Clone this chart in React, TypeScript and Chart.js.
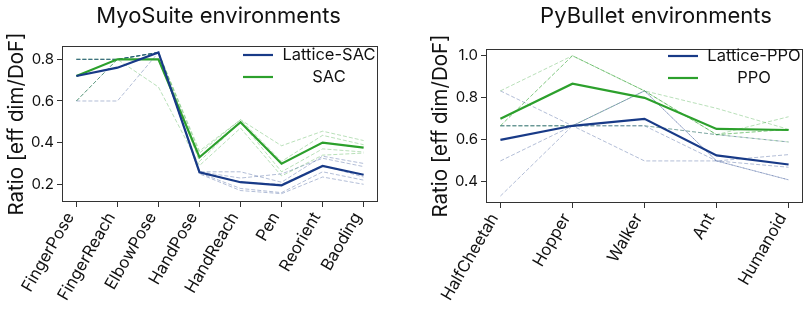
import React, { useEffect, useRef } from 'react';
import { Chart, registerables } from 'chart.js';

Chart.register(...registerables);

// ---------------- DATA ----------------
const myoCategories = ['FingerPose', 'FingerReach', 'ElbowPose', 'HandPose', 'HandReach', 'Pen', 'Reorient', 'Baoding'];
const myoLatticeMean = [0.72, 0.76, 0.833, 0.258, 0.21, 0.195, 0.288, 0.246];
const myoSacMean = [0.72, 0.8, 0.8, 0.33, 0.498, 0.299, 0.4, 0.376];
const myoLatticeSeeds = [
  [0.8, 0.8, 0.833, 0.26, 0.26, 0.21, 0.335, 0.3],
  [0.8, 0.8, 0.833, 0.26, 0.23, 0.25, 0.325, 0.285],
  [0.8, 0.8, 0.833, 0.26, 0.21, 0.2, 0.29, 0.235],
  [0.6, 0.8, 0.833, 0.255, 0.18, 0.16, 0.26, 0.22],
  [0.6, 0.6, 0.833, 0.25, 0.17, 0.155, 0.235, 0.2],
];
const myoSacSeeds = [
  [0.8, 0.8, 0.833, 0.36, 0.51, 0.385, 0.455, 0.41],
  [0.8, 0.8, 0.833, 0.35, 0.51, 0.31, 0.435, 0.39],
  [0.8, 0.8, 0.833, 0.33, 0.5, 0.3, 0.4, 0.375],
  [0.6, 0.8, 0.833, 0.31, 0.5, 0.26, 0.37, 0.355],
  [0.6, 0.8, 0.667, 0.29, 0.47, 0.24, 0.34, 0.35],
];
const myoYTicks = [0.2, 0.4, 0.6, 0.8];

const pyCategories = ['HalfCheetah', 'Hopper', 'Walker', 'Ant', 'Humanoid'];
const pyLatticeMean = [0.6, 0.667, 0.7, 0.526, 0.483];
const pyPpoMean = [0.7, 0.867, 0.8, 0.652, 0.647];
const pyLatticeSeeds = [
  [0.833, 0.667, 0.5, 0.5, 0.53],
  [0.667, 0.667, 0.667, 0.625, 0.59],
  [0.667, 0.667, 0.667, 0.5, 0.47],
  [0.5, 0.667, 0.833, 0.5, 0.41],
  [0.333, 0.667, 0.833, 0.5, 0.41],
];
const pyPpoSeeds = [
  [0.833, 1.0, 0.833, 0.75, 0.65],
  [0.667, 1.0, 0.833, 0.625, 0.71],
  [0.667, 1.0, 0.833, 0.625, 0.65],
  [0.667, 0.667, 0.667, 0.625, 0.65],
  [0.667, 0.667, 0.833, 0.625, 0.59],
];
const pyYTicks = [0.4, 0.6, 0.8, 1.0];

// ---------------- STYLE ----------------
const FONT = 'Inter, "Noto Sans", "DejaVu Sans", sans-serif';
const NAVY = '#183a87';
const GREEN = '#2ca02c';
const NAVY_SEED = 'rgba(24,58,135,0.33)';
const GREEN_SEED = 'rgba(44,160,44,0.33)';
const TEXT = '#111';
const AXIS = '#333';

type Panel = {
  title: string;
  titleDx: number;
  categories: string[];
  mainLabel: string;
  baseLabel: string;
  mainMean: number[];
  baseMean: number[];
  mainSeeds: number[][];
  baseSeeds: number[][];
  yTicks: number[];
  yMin: number;
  yMax: number;
  xMargin: number;
  padding: { left: number; right: number; top: number; bottom: number };
  yAxisWidth: number;
  xAxisHeight: number;
  legendY: number;
  labelOffset: number;
};

const decorPlugin = {
  id: 'panelDecor',
  afterDraw(chart: any, _args: any, opts: any) {
    const { ctx, chartArea: a } = chart;
    ctx.save();
    // frame
    ctx.strokeStyle = AXIS;
    ctx.lineWidth = 1;
    ctx.strokeRect(Math.round(a.left) + 0.5, Math.round(a.top) + 0.5, Math.round(a.right - a.left) - 1, Math.round(a.bottom - a.top) - 1);
    // title
    ctx.fillStyle = TEXT;
    ctx.font = `22px ${FONT}`;
    ctx.textAlign = 'center';
    ctx.textBaseline = 'alphabetic';
    ctx.fillText(opts.title, (a.left + a.right) / 2 + opts.titleDx, 23);
    // y title
    ctx.save();
    ctx.translate(a.left - 39, (a.top + a.bottom) / 2);
    ctx.rotate(-Math.PI / 2);
    ctx.font = `20.5px ${FONT}`;
    ctx.fillText('Ratio [eff dim/DoF]', 0, 0);
    ctx.restore();
    // legend
    const items = [
      { label: opts.mainLabel, color: NAVY },
      { label: opts.baseLabel, color: GREEN },
    ];
    items.forEach((it, i) => {
      const y = opts.legendY + i * 22;
      ctx.strokeStyle = it.color;
      ctx.lineWidth = 2.2;
      ctx.beginPath();
      ctx.moveTo(a.right - 135, y);
      ctx.lineTo(a.right - 105, y);
      ctx.stroke();
      ctx.fillStyle = TEXT;
      ctx.font = `16.5px ${FONT}`;
      ctx.textAlign = 'center';
      ctx.textBaseline = 'middle';
      ctx.fillText(it.label, a.right - 49, y);
    });
    ctx.restore();
  },
};

function buildConfig(p: Panel): any {
  const pts = (arr: number[]) => arr.map((y, i) => ({ x: i, y }));
  const datasets = [
    { data: pts(p.mainMean), borderColor: NAVY, borderWidth: 2.2 },
    { data: pts(p.baseMean), borderColor: GREEN, borderWidth: 2.2 },
    ...p.mainSeeds.map((s) => ({ data: pts(s), borderColor: NAVY_SEED, borderWidth: 1, borderDash: [4, 2] })),
    ...p.baseSeeds.map((s) => ({ data: pts(s), borderColor: GREEN_SEED, borderWidth: 1, borderDash: [4, 2] })),
  ].map((d) => ({ ...d, pointRadius: 0, tension: 0, fill: false }));

  return {
    type: 'line',
    data: { datasets },
    plugins: [decorPlugin],
    options: {
      responsive: false,
      animation: false,
      events: [],
      layout: { padding: p.padding },
      plugins: {
        legend: { display: false },
        tooltip: { enabled: false },
        title: { display: false },
        panelDecor: {
          title: p.title,
          titleDx: p.titleDx,
          mainLabel: p.mainLabel,
          baseLabel: p.baseLabel,
          legendY: p.legendY,
        },
      },
      scales: {
        x: {
          type: 'linear',
          min: -p.xMargin,
          max: p.categories.length - 1 + p.xMargin,
          afterBuildTicks: (s: any) => {
            s.ticks = p.categories.map((_, i) => ({ value: i }));
          },
          afterFit: (s: any) => {
            s.height = p.xAxisHeight;
          },
          ticks: {
            autoSkip: false,
            minRotation: 60,
            maxRotation: 60,
            padding: 2,
            labelOffset: p.labelOffset,
            color: TEXT,
            font: { family: FONT, size: 16.5 },
            callback: (v: any) => p.categories[v] ?? '',
          },
          grid: { drawOnChartArea: false, drawTicks: true, tickLength: 5, color: AXIS },
          border: { display: false },
        },
        y: {
          type: 'linear',
          min: p.yMin,
          max: p.yMax,
          afterBuildTicks: (s: any) => {
            s.ticks = p.yTicks.map((v) => ({ value: v }));
          },
          afterFit: (s: any) => {
            s.width = p.yAxisWidth;
          },
          ticks: {
            padding: 3,
            color: TEXT,
            font: { family: FONT, size: 15 },
            callback: (v: any) => Number(v).toFixed(1),
          },
          grid: { drawOnChartArea: false, drawTicks: true, tickLength: 5, color: AXIS },
          border: { display: false },
        },
      },
    },
  };
}

const myoPanel: Panel = {
  title: 'MyoSuite environments',
  titleDx: -1.5,
  categories: myoCategories,
  mainLabel: 'Lattice-SAC',
  baseLabel: 'SAC',
  mainMean: myoLatticeMean,
  baseMean: myoSacMean,
  mainSeeds: myoLatticeSeeds,
  baseSeeds: myoSacSeeds,
  yTicks: myoYTicks,
  yMin: 0.115,
  yMax: 0.864,
  xMargin: 0.35,
  padding: { left: 0, right: 28, top: 46, bottom: 0 },
  yAxisWidth: 62,
  xAxisHeight: 113,
  legendY: 55,
  labelOffset: -6,
};

const pyPanel: Panel = {
  title: 'PyBullet environments',
  titleDx: 11.5,
  categories: pyCategories,
  mainLabel: 'Lattice-PPO',
  baseLabel: 'PPO',
  mainMean: pyLatticeMean,
  baseMean: pyPpoMean,
  mainSeeds: pyLatticeSeeds,
  baseSeeds: pyPpoSeeds,
  yTicks: pyYTicks,
  yMin: 0.3,
  yMax: 1.032,
  xMargin: 0.2,
  padding: { left: 0, right: 9, top: 49, bottom: 0 },
  yAxisWidth: 80,
  xAxisHeight: 112,
  legendY: 56,
  labelOffset: -6,
};

function PanelChart({ panel, left }: { panel: Panel; left: number }) {
  const ref = useRef<HTMLCanvasElement | null>(null);
  useEffect(() => {
    if (!ref.current) return;
    const chart = new Chart(ref.current, buildConfig(panel));
    return () => chart.destroy();
  }, [panel]);
  return (
    <canvas
      ref={ref}
      width={406}
      height={315}
      style={{ position: 'absolute', left, top: 0, width: 406, height: 315 }}
    />
  );
}

export default function App() {
  return (
    <div style={{ position: 'absolute', left: 0, top: 0, width: 812, height: 315, background: '#fff' }}>
      <PanelChart panel={myoPanel} left={0} />
      <PanelChart panel={pyPanel} left={406} />
    </div>
  );
}
